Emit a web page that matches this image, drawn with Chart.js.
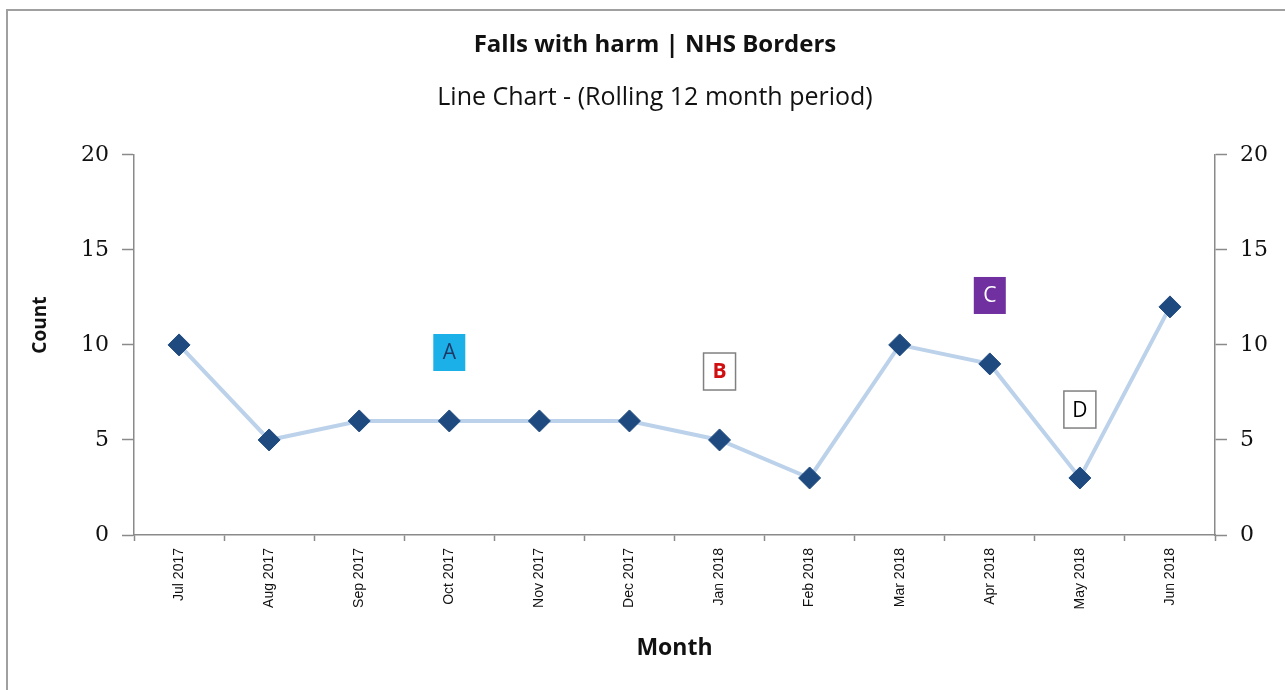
<!DOCTYPE html>
<html lang="en">
<head>
    <meta charset="UTF-8">
    <title>Falls with harm | NHS Borders</title>
    <script src="https://cdn.jsdelivr.net/npm/chart.js"></script>
    <style>
        html, body {
            margin: 0;
            padding: 0;
            background: #ffffff;
        }

        .frame {
            position: absolute;
            left: 6px;
            top: 9px;
            width: 1285px;
            height: 690px;
            border-left: 2px solid #a0a0a0;
            border-top: 2px solid #a0a0a0;
        }

        .chart-container {
            position: absolute;
            left: 0;
            top: 0;
            width: 1285px;
            height: 690px;
        }
    </style>
</head>
<body>
    <div class="frame"></div>
    <div class="chart-container">
        <canvas id="myChart"></canvas>
    </div>
<script>

    const months = ['Jul 2017', 'Aug 2017', 'Sep 2017', 'Oct 2017', 'Nov 2017', 'Dec 2017',
        'Jan 2018', 'Feb 2018', 'Mar 2018', 'Apr 2018', 'May 2018', 'Jun 2018'];
    const counts = [10, 5, 6, 6, 6, 6, 5, 3, 10, 9, 3, 12];
    const yTicks = [0, 5, 10, 15, 20];

    // note letters, anchored in data space (category, value)
    const noteLetters = ['A', 'B', 'C', 'D'];
    const noteMonths = ['Oct 2017', 'Jan 2018', 'Apr 2018', 'May 2018'];
    const noteValues = [9.6, 8.6, 12.6, 6.6];

    const NOTE_STYLES = {
        A: { fill: '#1cb0e9', border: null, text: '#1f3864', bold: false },
        B: { fill: '#ffffff', border: '#808080', text: '#d01010', bold: true },
        C: { fill: '#7030a0', border: null, text: '#ffffff', bold: false },
        D: { fill: '#ffffff', border: '#808080', text: '#000000', bold: false }
    };

    const CALIBRI = "'Open Sans', Lato, sans-serif";
    const AXIS_GREY = '#8a8a8a';

    const notesPlugin = {
        id: 'notes',
        afterDraw(chart) {
            const c = chart.ctx;
            const xs = chart.scales.x;
            const ys = chart.scales.y;
            noteLetters.forEach((letter, i) => {
                const st = NOTE_STYLES[letter];
                const cx = xs.getPixelForValue(months.indexOf(noteMonths[i]));
                const cy = ys.getPixelForValue(noteValues[i]);
                const w = 32, h = 37;
                c.save();
                c.fillStyle = st.fill;
                c.fillRect(cx - w / 2, cy - h / 2, w, h);
                if (st.border) {
                    c.strokeStyle = st.border;
                    c.lineWidth = 1.5;
                    c.strokeRect(cx - w / 2, cy - h / 2, w, h);
                }
                c.fillStyle = st.text;
                c.font = (st.bold ? 'bold ' : '') + '21px ' + CALIBRI;
                c.textAlign = 'center';
                c.textBaseline = 'middle';
                c.fillText(letter, cx, cy + 1);
                c.restore();
            });
        }
    };

    const yAxisCommon = {
        min: 0,
        max: 20,
        afterBuildTicks: (axis) => {
            axis.ticks = yTicks.map(v => ({ value: v }));
        },
        border: { color: AXIS_GREY, width: 1.5 },
        grid: {
            drawOnChartArea: false,
            color: AXIS_GREY,
            tickLength: 12,
            tickWidth: 1.5
        },
        ticks: {
            padding: 13,
            color: '#111111',
            font: { family: "'DejaVu Serif', serif", size: 22 }
        }
    };

    const config = {
        type: 'line',
        data: {
            labels: months,
            datasets: [{
                label: 'Count',
                data: counts,
                borderColor: '#bcd2ea',
                borderWidth: 4,
                pointStyle: 'rectRot',
                pointRadius: 11,
                pointBackgroundColor: '#1f4a7f',
                pointBorderColor: '#1f4a7f',
                pointBorderWidth: 1,
                tension: 0,
                fill: false
            }]
        },
        options: {
            animation: false,
            responsive: true,
            maintainAspectRatio: false,
            events: [],
            layout: {
                padding: { top: 0, left: 25, right: 0, bottom: 0 }
            },
            plugins: {
                legend: { display: false },
                tooltip: { enabled: false },
                title: {
                    display: true,
                    text: 'Falls with harm | NHS Borders',
                    color: '#111111',
                    font: { family: CALIBRI, size: 24, weight: 'bold', lineHeight: 1.2 },
                    padding: { top: 31, bottom: 23 }
                },
                subtitle: {
                    display: true,
                    text: 'Line Chart - (Rolling 12 month period)',
                    color: '#111111',
                    font: { family: CALIBRI, size: 25, weight: 'normal', lineHeight: 1.2 },
                    padding: { top: 0, bottom: 42 }
                }
            },
            scales: {
                x: {
                    offset: true,
                    afterFit: (axis) => { axis.height = 155; },
                    border: { color: AXIS_GREY, width: 1.5 },
                    grid: {
                        offset: true,
                        drawOnChartArea: false,
                        color: AXIS_GREY,
                        tickLength: 6,
                        tickWidth: 1.5
                    },
                    ticks: {
                        autoSkip: false,
                        minRotation: 90,
                        maxRotation: 90,
                        padding: 7,
                        color: '#111111',
                        font: { family: "'Liberation Sans', Arial, sans-serif", size: 14 }
                    },
                    title: {
                        display: true,
                        text: 'Month',
                        color: '#111111',
                        font: { family: CALIBRI, size: 23, weight: 'bold', lineHeight: 1.2 },
                        padding: { top: 0, bottom: 28 }
                    }
                },
                y: Object.assign({}, yAxisCommon, {
                    position: 'left',
                    afterFit: (axis) => { axis.width = 109; },
                    title: {
                        display: true,
                        // leading spaces lift the rotated word a little above the axis middle
                        text: '        Count',
                        color: '#111111',
                        font: { family: CALIBRI, size: 19, weight: 'bold', lineHeight: 1.2 },
                        padding: { top: 4, bottom: 0 }
                    }
                }),
                y1: Object.assign({}, yAxisCommon, {
                    position: 'right',
                    afterFit: (axis) => { axis.width = 70; }
                })
            }
        },
        plugins: [notesPlugin]
    };

    const ctx = document.getElementById('myChart');
    const chart = new Chart(ctx, config);

</script>
</body>
</html>
